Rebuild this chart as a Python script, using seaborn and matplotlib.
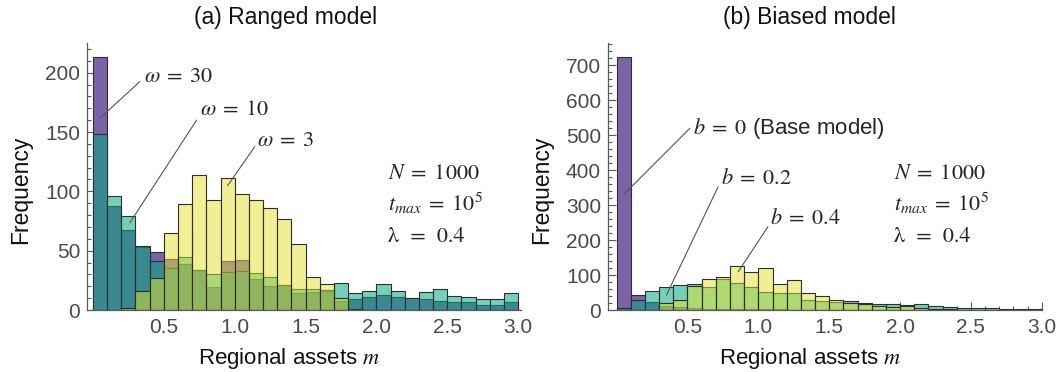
import numpy as np
import pandas as pd
import matplotlib
matplotlib.use("Agg")
import matplotlib.pyplot as plt
import seaborn as sns
from matplotlib.ticker import MultipleLocator, FixedLocator

# ---------------- data (counts per bin of width 0.1 on [0, 3]) ----------------
bin_width = 0.1
n_bins = 30

# (a) Ranged model
ranged_w30 = [213, 88, 67, 53, 49, 43, 39, 34, 19, 41, 42, 26, 20, 21, 14,
              15, 16, 8, 9, 11, 13, 11, 10, 9, 8, 7, 7, 4, 4, 7]
ranged_w10 = [148, 96, 79, 54, 41, 35, 45, 34, 30, 32, 33, 31, 28, 21, 18,
              18, 17, 23, 14, 16, 22, 16, 10, 15, 18, 12, 11, 9, 9, 14]
ranged_w3 = [0, 0, 2, 16, 27, 65, 89, 114, 93, 111, 98, 93, 86, 77, 56,
             28, 22, 10, 1, 0, 0, 0, 0, 0, 0, 0, 0, 0, 0, 0]

# (b) Biased model
biased_b0 = [724, 43, 24, 12, 8, 6, 4, 3, 3, 2, 2, 2, 1, 1, 1,
             1, 1, 0, 0, 0, 0, 0, 0, 0, 0, 0, 0, 0, 0, 0]
biased_b02 = [7, 29, 55, 65, 71, 73, 65, 90, 76, 65, 52, 50, 48, 29, 26,
              22, 26, 21, 17, 17, 15, 17, 12, 8, 6, 5, 7, 4, 3, 4]
biased_b04 = [0, 0, 0, 20, 29, 68, 88, 93, 126, 108, 119, 73, 86, 48, 40,
              30, 19, 16, 12, 8, 12, 5, 3, 2, 1, 1, 0, 0, 0, 0]

x_ticks = [0.5, 1.0, 1.5, 2.0, 2.5, 3.0]

# ---------------- style ----------------
sns.set_theme(style="ticks")
plt.rcParams['font.family'] = ['Liberation Sans', 'DejaVu Sans']
plt.rcParams['mathtext.fontset'] = 'stix'

PURPLE = '#7B63A8'
TEAL = '#06AA80'
YELLOW = '#E5E12D'
EDGE = '#2e2e2e'
AXC = '#5a5a5a'
LBL = '#4a4a4a'

W, H = 1057, 372
fig = plt.figure(figsize=(W / 100, H / 100), dpi=100)


def add_axes(x0, x1, ytop, ybot):
    return fig.add_axes([x0 / W, 1 - ybot / H, (x1 - x0) / W, (ybot - ytop) / H])


axA = add_axes(87, 521, 43, 310)
axB = add_axes(608, 1042, 43, 310)

centers = (np.arange(n_bins) + 0.5) * bin_width


def draw(ax, series):
    for vals, col, a in series:
        df = pd.DataFrame({'m': centers, 'count': np.asarray(vals, dtype=float)})
        sns.histplot(data=df, x='m', weights='count', binwidth=bin_width,
                     binrange=(0, n_bins * bin_width), ax=ax, color=col,
                     alpha=a, edgecolor=EDGE, linewidth=0.8, stat='count')


draw(axA, [(ranged_w30, PURPLE, 1.0), (ranged_w10, TEAL, 0.55), (ranged_w3, YELLOW, 0.5)])
draw(axB, [(biased_b0, PURPLE, 1.0), (biased_b02, TEAL, 0.55), (biased_b04, YELLOW, 0.5)])


def style(ax, ymax, ymajor, yminor):
    ax.set_xlim(-0.042, 3.02)
    ax.set_ylim(0, ymax)
    ax.xaxis.set_major_locator(FixedLocator(x_ticks))
    ax.xaxis.set_minor_locator(FixedLocator(list(np.round(np.arange(1, 31) * 0.1, 2))))
    ax.yaxis.set_major_locator(MultipleLocator(ymajor))
    ax.yaxis.set_minor_locator(MultipleLocator(yminor))
    for s in ['top', 'right']:
        ax.spines[s].set_visible(False)
    for s in ['left', 'bottom']:
        ax.spines[s].set_color(AXC)
        ax.spines[s].set_linewidth(0.9)
    ax.tick_params(which='both', direction='in', color=AXC, width=0.8,
                   labelcolor=LBL, labelsize=15)
    ax.tick_params(which='major', length=6)
    ax.tick_params(which='minor', length=3)
    ax.tick_params(axis='x', pad=6)
    ax.tick_params(axis='y', pad=5)
    ax.set_xlabel('')
    ax.set_ylabel('')
    ax.text(-0.153, 0.449, 'Frequency', transform=ax.transAxes, rotation=90,
            ha='center', va='center', fontsize=16.5, color='#111111')
    ax.text(0.465, -0.18, 'Regional assets $m$', transform=ax.transAxes,
            ha='center', va='center', fontsize=16, color='#111111')


style(axA, 225, 50, 10)
style(axB, 763, 100, 20)
axB.set_xlim(-0.061, 3.002)

axA.text(0.4585, 1.094, '(a) Ranged model', transform=axA.transAxes,
         ha='center', va='center', fontsize=16.5, color='#111111')
axB.text(0.463, 1.094, '(b) Biased model', transform=axB.transAxes,
         ha='center', va='center', fontsize=16.5, color='#111111')

LINE = dict(color='#555555', lw=0.8)
MT = 16
PT = 16

# annotations (a)
axA.plot([0.049, 0.331], [161.6, 192.5], **LINE)
axA.text(0.36, 197, r'$\omega\;=\;30$', fontsize=MT, va='center', ha='left')
axA.plot([0.261, 0.731], [73.6, 160], **LINE)
axA.text(0.755, 168.6, r'$\omega\;=\;10$', fontsize=MT, va='center', ha='left')
axA.plot([0.95, 1.142], [104.8, 137.7], **LINE)
axA.text(1.154, 143, r'$\omega\;=\;3$', fontsize=MT, va='center', ha='left')

axA.text(2.08, 115, r'$N\;=\;1000$', fontsize=PT, va='center', ha='left')
axA.text(2.08, 90, r'$t_{max}\;=\;10^5$', fontsize=PT, va='center', ha='left')
axA.text(2.08, 61.8, 'λ  =  0.4', fontsize=PT, va='center', ha='left',
         family='STIXGeneral')

# annotations (b)
axB.plot([0.047, 0.516], [329, 519], **LINE)
axB.text(0.54, 519, r'$b\;=\;0$ (Base model)', fontsize=MT, va='center', ha='left')
axB.plot([0.352, 0.716], [43, 352], **LINE)
axB.text(0.74, 376, r'$b\;=\;0.2$', fontsize=MT, va='center', ha='left')
axB.plot([0.857, 1.068], [109, 238], **LINE)
axB.text(1.08, 262, r'$b\;=\;0.4$', fontsize=MT, va='center', ha='left')

axB.text(1.96, 390, r'$N\;=\;1000$', fontsize=PT, va='center', ha='left')
axB.text(1.96, 305, r'$t_{max}\;=\;10^5$', fontsize=PT, va='center', ha='left')
axB.text(1.96, 209, 'λ  =  0.4', fontsize=PT, va='center', ha='left',
         family='STIXGeneral')

fig.savefig('out.png', dpi=100)
